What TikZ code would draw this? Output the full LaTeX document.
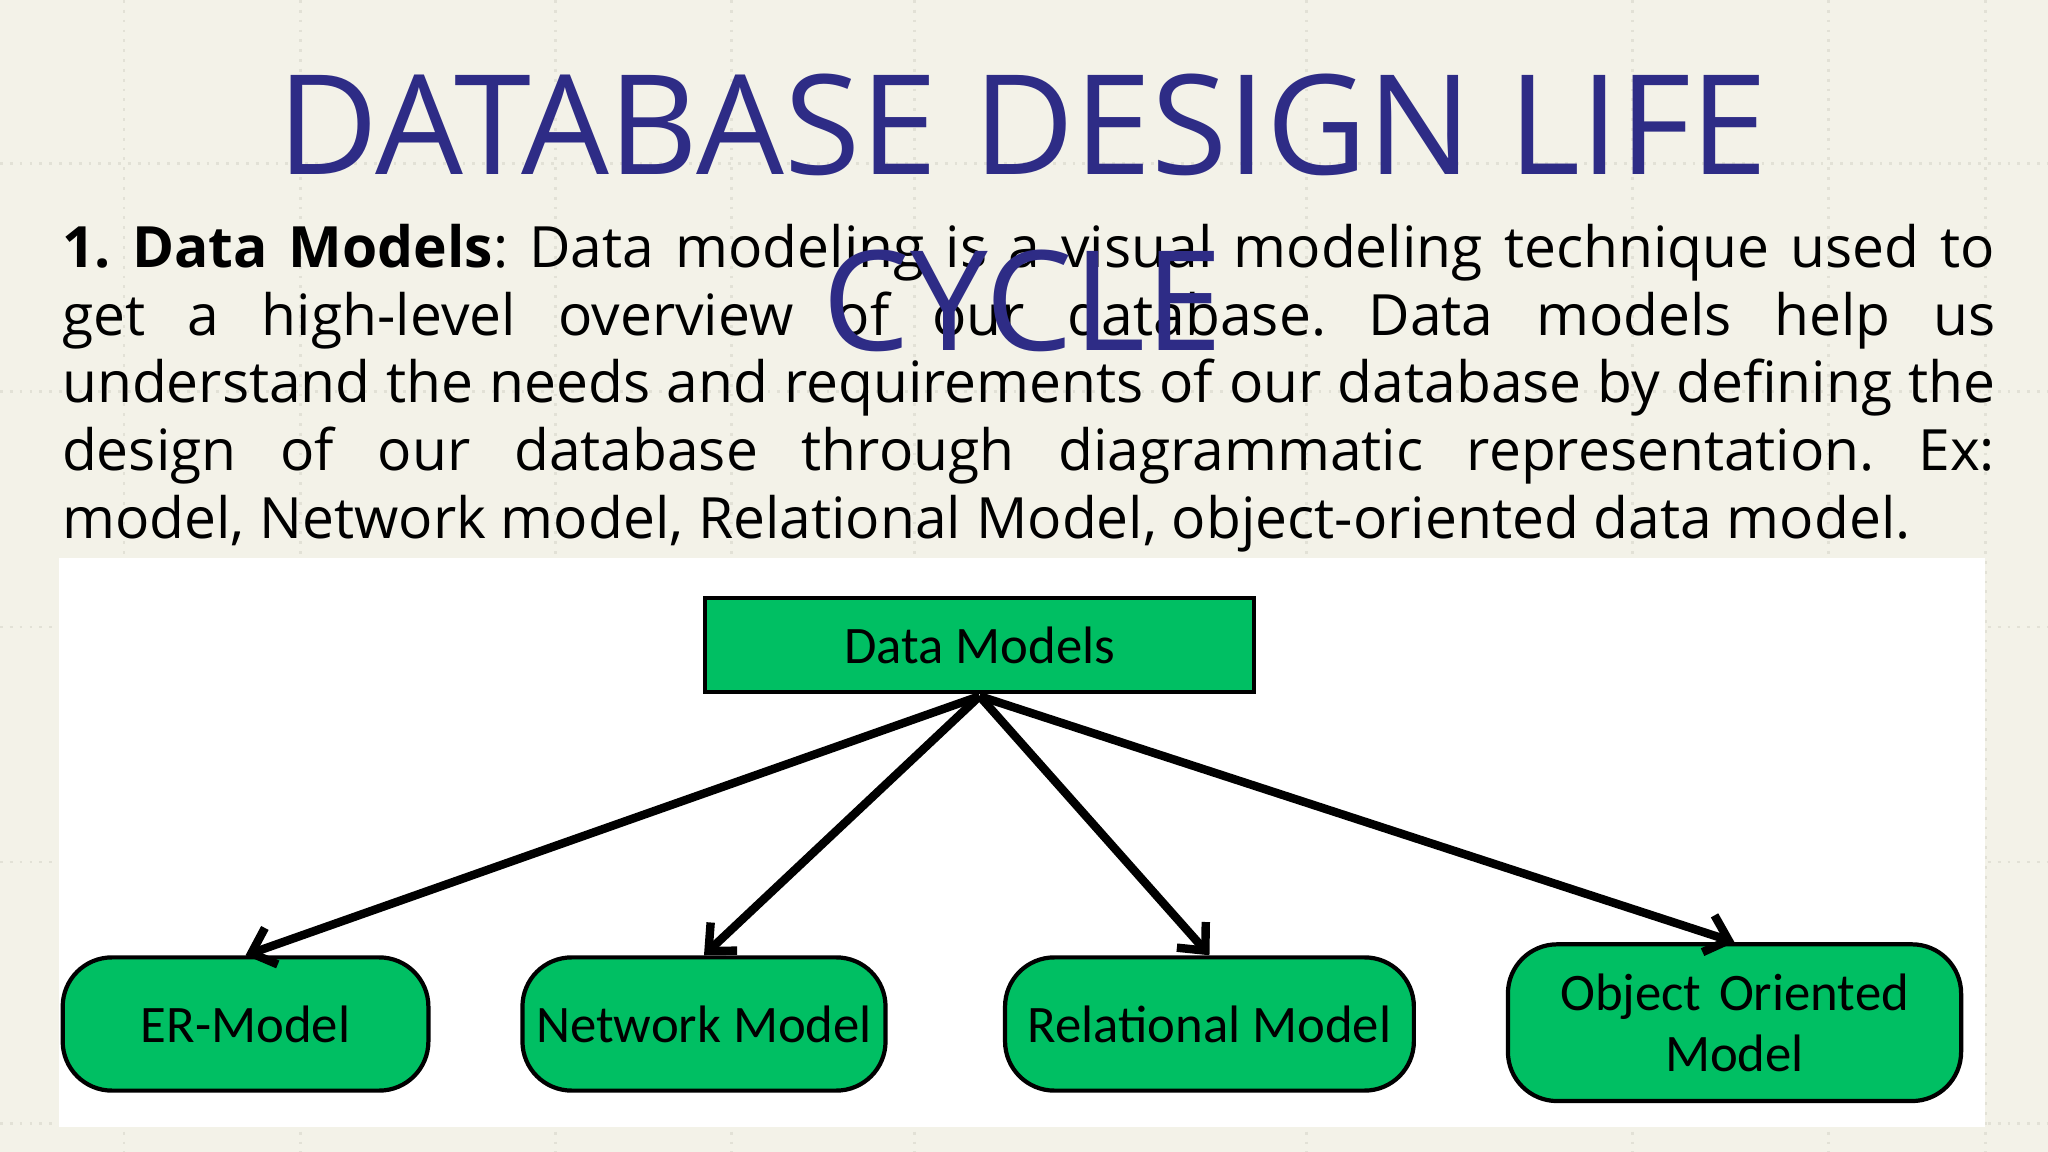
\documentclass[tikz,border=0pt]{standalone}
\usepackage{fontspec}
\setmainfont{Open Sans}
\newfontfamily\dfont{Carlito}
\definecolor{bg}{HTML}{F3F2E8}
\definecolor{gridc}{HTML}{E2E1D6}
\definecolor{ttl}{HTML}{2E2C86}
\definecolor{grn}{HTML}{00BF63}
\tikzset{
 sq/.style={draw=black,line width=1.2pt,fill=grn,font=\dfont\fontsize{15}{17}\selectfont},
 rd/.style={draw=black,line width=1.2pt,fill=grn,rounded corners=14pt,font=\dfont\fontsize{15}{17.5}\selectfont,align=center},
 arr/.style={line width=2.4pt,-{Straight Barb[length=6pt,width=11pt]}},
}
\usetikzlibrary{arrows.meta}
\begin{document}
\begin{tikzpicture}[x=0.01306cm,y=-0.01306cm]
\fill[bg] (0,0) rectangle (1568,882);
\useasboundingbox (0,0) rectangle (1568,882);
\foreach \x in {95,230,425,560,700,1000,1250,1400,1520}{\draw[gridc,line width=0.8pt,dotted] (\x,0)--(\x,882);}
\foreach \y in {125,300,480,660,860}{\draw[gridc,line width=0.8pt,dotted] (0,\y)--(1568,\y);}
\node[anchor=north west,inner sep=0,text width=1480*0.01306cm,align=justify,font=\fontsize{16.2}{19.3}\selectfont] (body) at (47,171)
{\frenchspacing\hyphenpenalty=10000\textbf{1. Data Models}: Data modeling is a visual modeling technique used to\linebreak get a high-level overview of our database. Data models help us\linebreak understand the needs and requirements of our database by defining the\linebreak design of our database through diagrammatic representation. Ex:\linebreak model, Network model, Relational Model, object-oriented data model.};
\node[text=ttl,align=center,font=\fontsize{39.5}{50}\selectfont,inner sep=0,anchor=north] (title) at (783,56) {DATABASE DESIGN LIFE\\CYCLE};
\fill[white] (45,427) rectangle (1520,863);
\node[sq,minimum width=420*0.01306cm,minimum height=72*0.01306cm] (dm) at (750,494) {Data Models};
\node[rd,minimum width=280*0.01306cm,minimum height=102*0.01306cm] (er) at (188,784) {ER-Model};
\node[rd,minimum width=278*0.01306cm,minimum height=102*0.01306cm] (nm) at (539,784) {Network Model};
\node[rd,minimum width=313*0.01306cm,minimum height=102*0.01306cm] (rm) at (926,784) {Relational Model};
\node[rd,minimum width=347*0.01306cm,minimum height=120*0.01306cm,text width=320*0.01306cm] (om) at (1328,783) {Object Oriented\\Model};
\coordinate (s) at (750,533);
\draw[arr] (s) -- (er.north);
\draw[arr] (s) -- (nm.north);
\draw[arr] (s) -- (rm.north);
\draw[arr] (s) -- (om.north);
\end{tikzpicture}
\end{document}
